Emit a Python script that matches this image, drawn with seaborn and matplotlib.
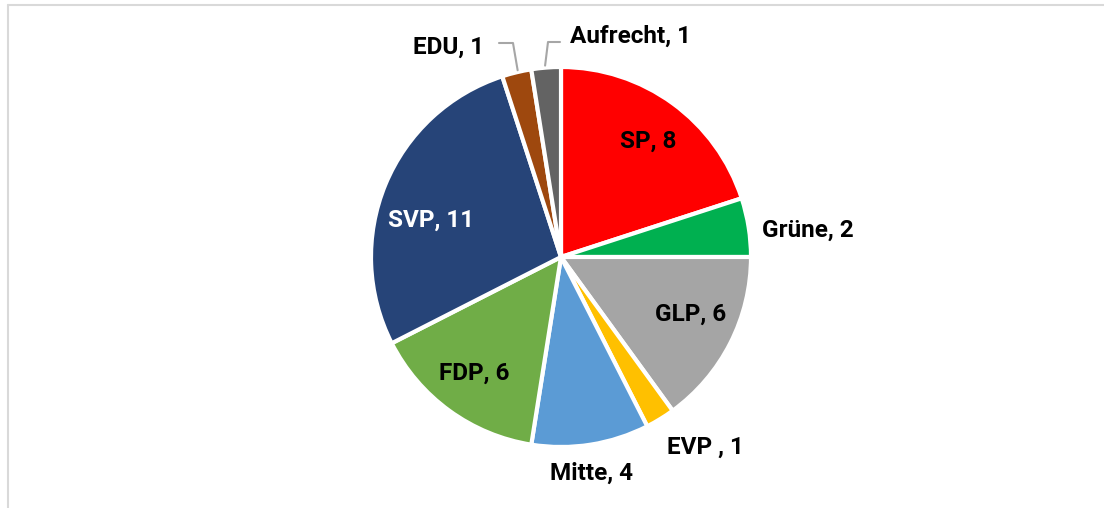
import numpy as np
import matplotlib
matplotlib.use("Agg")
import matplotlib.pyplot as plt
from matplotlib.lines import Line2D
import seaborn as sns

parties = ["SP", "Grüne", "GLP", "EVP ", "Mitte", "FDP", "SVP", "EDU", "Aufrecht"]
seats = [8, 2, 6, 1, 4, 6, 11, 1, 1]
colors = ["#FF0000", "#00B050", "#A5A5A5", "#FFC000", "#5B9BD5",
          "#70AD47", "#264478", "#9E480E", "#636363"]
text_colors = ["black", "black", "black", "black", "black", "black", "white", "black", "black"]
# label anchor (center x, baseline y) in image pixel coordinates
label_x = [648, 808, 691, 705, 592, 474, 431, 449, 630]
label_base_y = [148, 237, 321, 454, 480, 380, 227, 54, 43]

sns.set_theme(style="white")
plt.rcParams['font.family'] = ['Roboto', 'DejaVu Sans']

W, H = 1104, 508
fig = plt.figure(figsize=(W / 100, H / 100), dpi=100)
ax = fig.add_axes([0, 0, 1, 1])

cx, cy, R = 561, H - 257, 190
wedges, _ = ax.pie(seats, colors=colors, startangle=90, counterclock=False,
                   center=(cx, cy), radius=R,
                   wedgeprops=dict(edgecolor="white", linewidth=3), frame=True)
ax.set_xlim(0, W)
ax.set_ylim(0, H)
ax.set_aspect("equal")
ax.axis("off")

fs = 17.5
for name, val, tc, x, yb in zip(parties, seats, text_colors, label_x, label_base_y):
    ax.text(x, H - yb, f"{name}, {val}", ha="center", va="baseline", fontsize=fs,
            fontweight="bold", color=tc)

# leader lines for the small slices
lc = "#A6A6A6"
w_edu, w_auf = wedges[7], wedges[8]
ang = np.deg2rad((w_edu.theta1 + w_edu.theta2) / 2)
px, py = cx + R * np.cos(ang), cy + R * np.sin(ang)
ax.plot([px + 1, 513, 499], [py + 2, H - 43, H - 43], color=lc, lw=1.5)
ang = np.deg2rad((w_auf.theta1 + w_auf.theta2) / 2)
px, py = cx + R * np.cos(ang), cy + R * np.sin(ang)
ax.plot([px - 1, 548, 560], [py + 2, H - 42, H - 42], color=lc, lw=1.5)

# chart frame (partially visible)
fig.add_artist(Line2D([7.5 / W, 7.5 / W], [0, 1 - 5 / H], transform=fig.transFigure,
                      color="#D9D9D9", lw=1.5))
fig.add_artist(Line2D([7.5 / W, 1], [1 - 5 / H, 1 - 5 / H], transform=fig.transFigure,
                      color="#D9D9D9", lw=1.5))

fig.savefig("out.png", dpi=100, facecolor="white")
